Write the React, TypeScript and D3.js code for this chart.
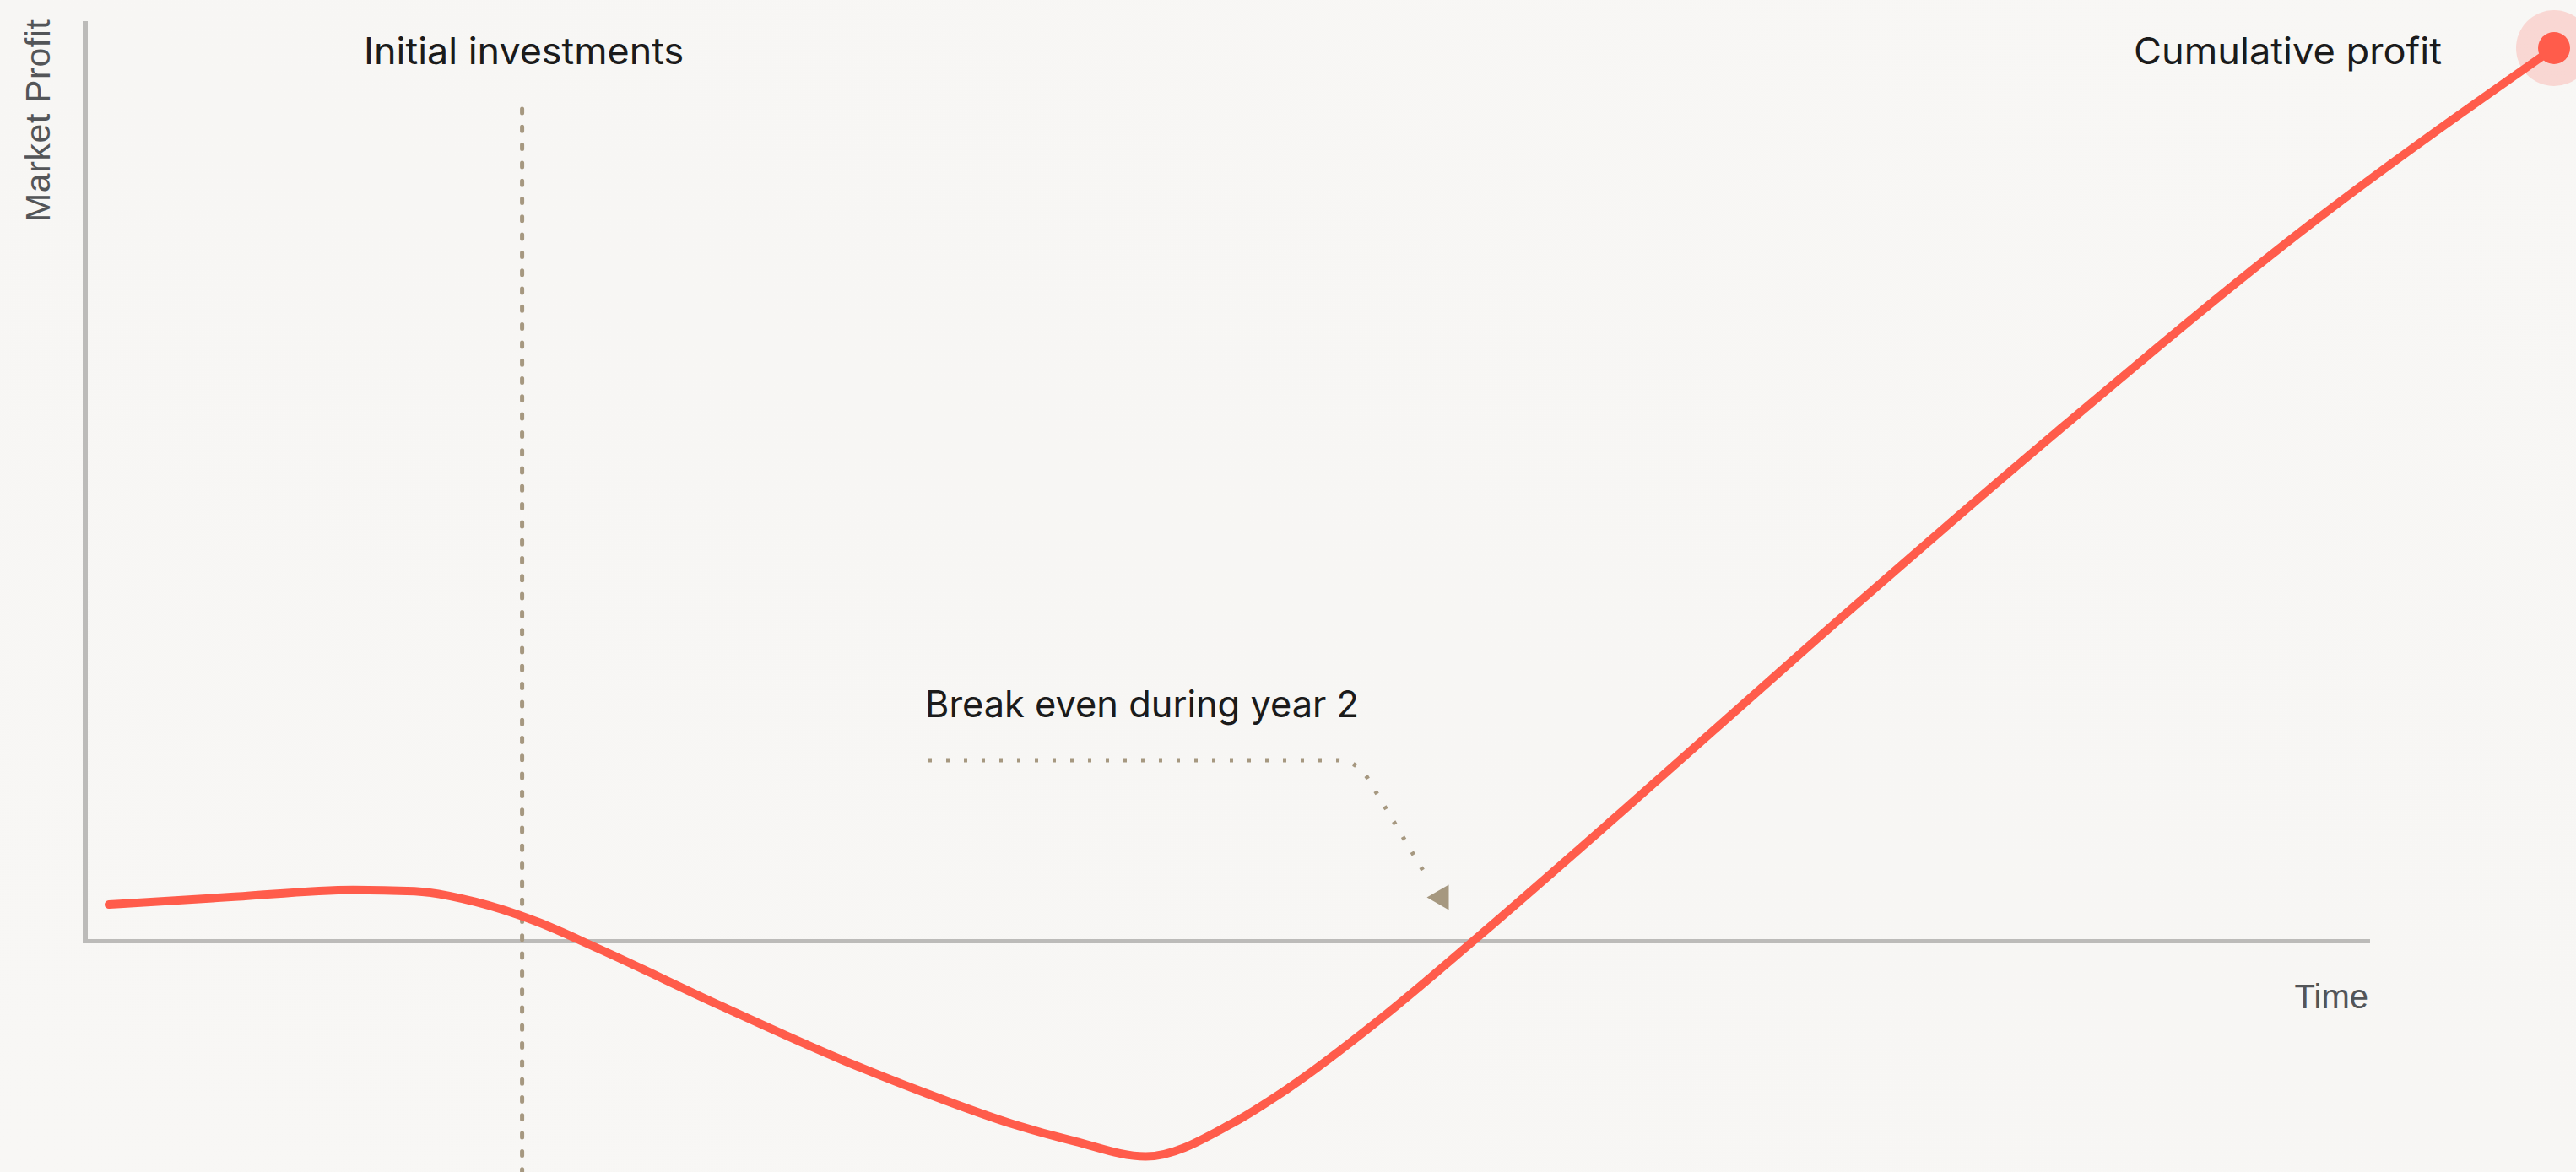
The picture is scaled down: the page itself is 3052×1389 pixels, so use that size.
import React from 'react';
import * as d3 from 'd3';

// Cumulative market profit over time (arbitrary time units, profit in % of final value)
const timePoints = [0, 5, 10, 12.5, 15, 17.5, 20, 25, 30, 33.5, 37, 39.5, 42.4, 46, 48, 52, 56, 62, 70, 80, 90, 100];
const profitValues = [4.1, 4.95, 5.75, 5.6, 4.4, 2.2, -0.8, -7.2, -13.3, -17.1, -20.5, -22.4, -24.1, -20.3, -16.9, -8.7, 0.5, 14.8, 34.2, 57.8, 80.2, 100];

// Annotated moments on the time axis
const investmentTime = 16.9;
const breakEvenTime = 55.8;

const labels = {
  yAxis: 'Market Profit',
  xAxis: 'Time',
  investment: 'Initial investments',
  cumulative: 'Cumulative profit',
  breakEven: 'Break even during year 2',
};

const W = 3052;
const H = 1389;

const RED = '#ff5c4b';
const TAN = '#a69880';
const AXIS = '#bcbbb9';
const INK = '#1b1b1b';
const AXIS_INK = '#535558';

export default function App() {
  const x = d3.scaleLinear().domain([0, 100]).range([129, 3026]);
  const y = d3.scaleLinear().domain([0, 100]).range([1115.5, 57]);

  const data = timePoints.map((t, i) => ({ t, v: profitValues[i] }));
  const line = d3
    .line<{ t: number; v: number }>()
    .x((d) => x(d.t))
    .y((d) => y(d.v))
    .curve(d3.curveMonotoneX);

  const last = data[data.length - 1];
  const endX = x(last.t);
  const endY = y(last.v);

  const axisLeft = 101;
  const axisRight = 2808;
  const axisTop = 25;
  const zeroY = y(0);

  const invX = x(investmentTime);
  const beX = x(breakEvenTime);

  // break-even pointer: dotted leader from the label, bending down toward the crossing
  const tipX = beX - 55;
  const tipY = zeroY - 52;
  const leader = `M1100,901 H1585 Q1608,901 1622,925 L${tipX + 2},${tipY - 21}`;

  const labelFont = 'Inter, "Noto Sans", sans-serif';
  const axisFont = '"Liberation Sans", Arial, sans-serif';

  return (
    <svg
      width={W}
      height={H}
      viewBox={`0 0 ${W} ${H}`}
      style={{ position: 'fixed', left: 0, top: 0, display: 'block' }}
    >
      <defs>
        <linearGradient id="bg" x1="0" y1="1" x2="1" y2="0">
          <stop offset="0" stopColor="#f8f7f5" />
          <stop offset="0.5" stopColor="#f7f6f4" />
          <stop offset="1" stopColor="#f8f7f5" />
        </linearGradient>
      </defs>
      <rect x={0} y={0} width={W} height={H} fill="url(#bg)" />

      {/* axes */}
      <line x1={axisLeft} x2={axisLeft} y1={axisTop} y2={zeroY + 2.5} stroke={AXIS} strokeWidth={6} />
      <line x1={axisLeft - 3} x2={axisRight} y1={zeroY} y2={zeroY} stroke={AXIS} strokeWidth={5} />

      <text
        transform={`translate(59,263) rotate(-90)`}
        fontFamily={axisFont}
        fontSize={41}
        fill={AXIS_INK}
        textLength={240}
        lengthAdjust="spacing"
      >
        {labels.yAxis}
      </text>
      <text x={axisRight - 2} y={1195} textAnchor="end" fontFamily={axisFont} fontSize={40} fill={AXIS_INK}>
        {labels.xAxis}
      </text>

      {/* initial investment marker */}
      <line
        x1={invX}
        x2={invX}
        y1={129}
        y2={H + 10}
        stroke={TAN}
        strokeWidth={5}
        strokeDasharray="5 16.3"
        strokeLinecap="round"
      />
      <text x={invX + 2} y={76} textAnchor="middle" fontFamily={labelFont} fontSize={44} fill={INK} textLength={379} lengthAdjust="spacingAndGlyphs">
        {labels.investment}
      </text>

      {/* break-even annotation */}
      <text x={1096} y={850} fontFamily={labelFont} fontSize={44} fill={INK} textLength={514} lengthAdjust="spacingAndGlyphs">
        {labels.breakEven}
      </text>
      <path d={leader} fill="none" stroke={TAN} strokeWidth={5} strokeDasharray="4 17" />
      <polygon
        points={`${tipX},${tipY} ${tipX + 26},${tipY - 15} ${tipX + 26},${tipY + 15}`}
        fill={TAN}
      />

      {/* profit curve */}
      <path d={line(data) ?? ''} fill="none" stroke={RED} strokeWidth={10} strokeLinecap="round" strokeLinejoin="round" />

      {/* end point */}
      <circle cx={endX} cy={endY} r={45} fill={RED} fillOpacity={0.2} />
      <circle cx={endX} cy={endY} r={19} fill={RED} />
      <text x={2893} y={76} textAnchor="end" fontFamily={labelFont} fontSize={44} fill={INK} textLength={365} lengthAdjust="spacingAndGlyphs">
        {labels.cumulative}
      </text>
    </svg>
  );
}
